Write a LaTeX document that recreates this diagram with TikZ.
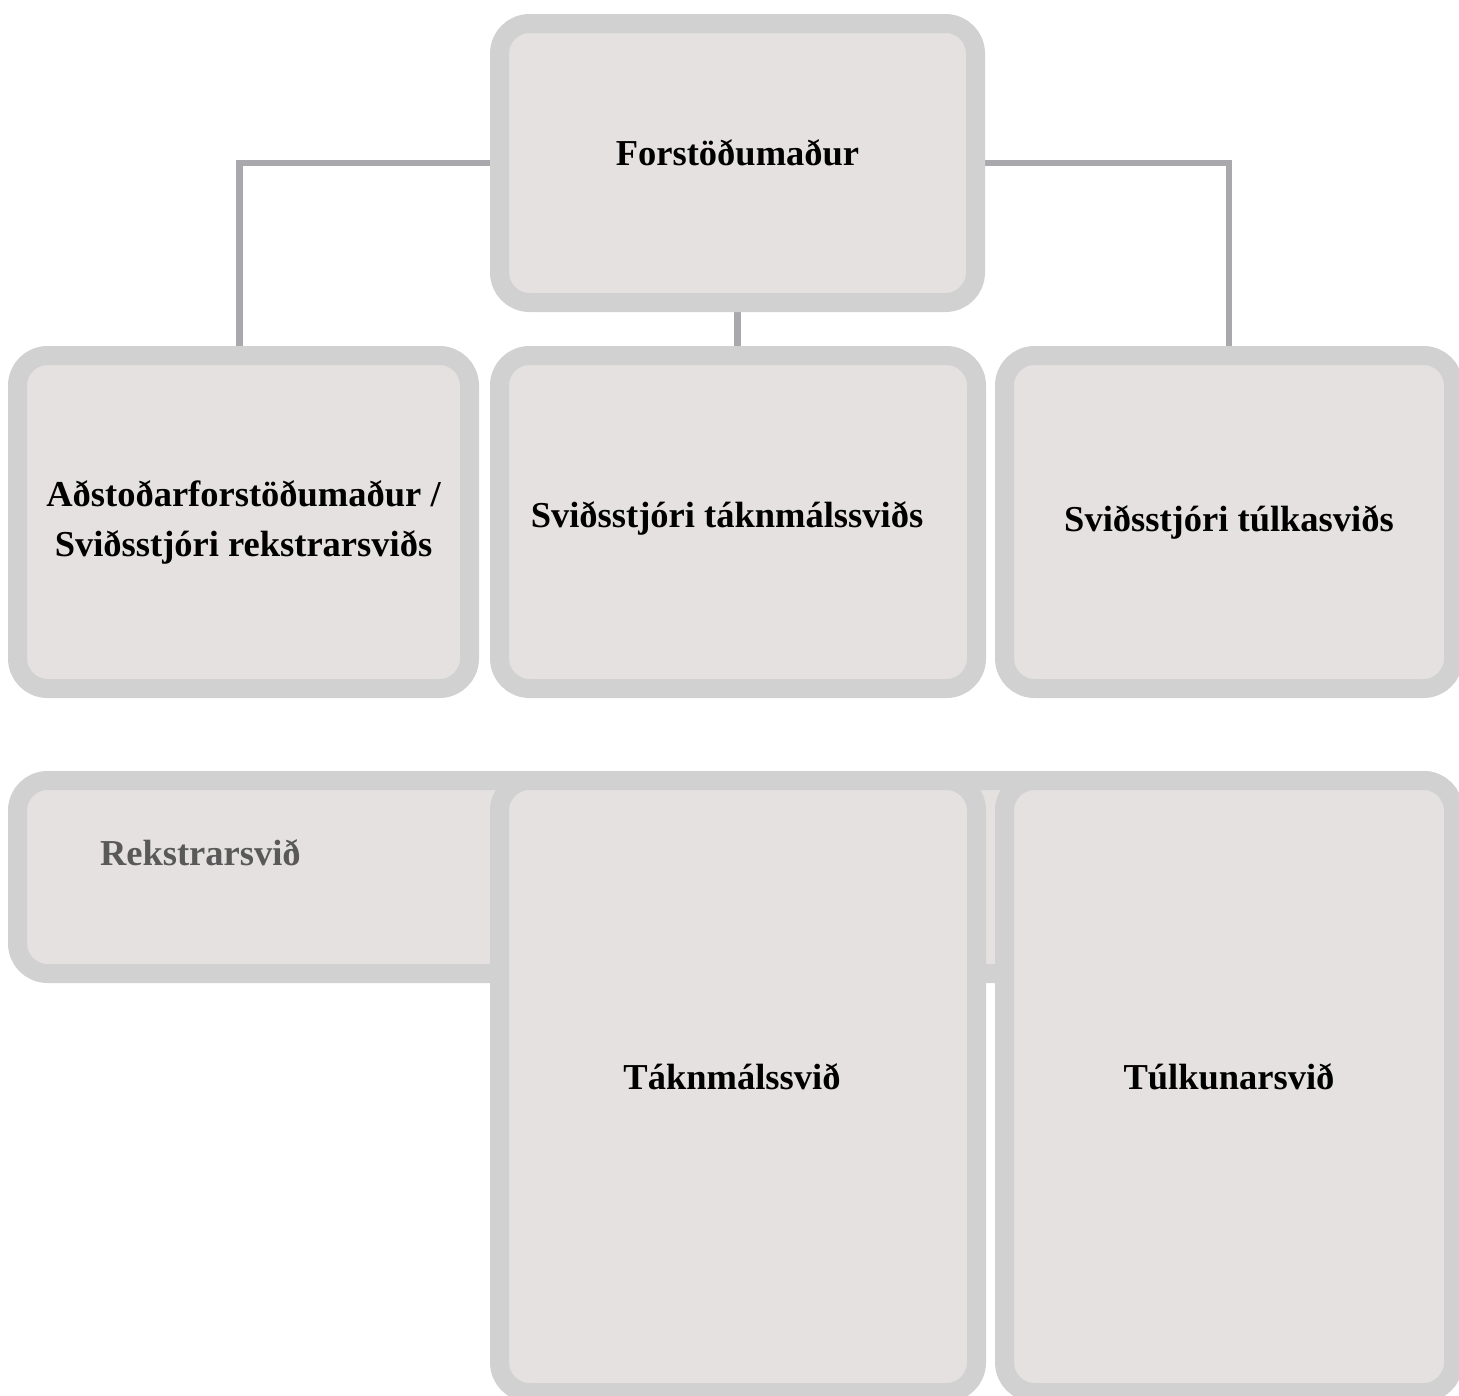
\documentclass[tikz,border=0pt]{standalone}
\usepackage{fontspec}
\setmainfont{Liberation Serif}
\usetikzlibrary{backgrounds}
\definecolor{boxedge}{RGB}{209,209,209}
\definecolor{boxfill}{RGB}{228,225,224}
\definecolor{linkgray}{RGB}{169,168,173}
\definecolor{lblgray}{RGB}{89,89,89}
\begin{document}
\begin{tikzpicture}[x=1pt,y=-1pt,inner sep=0pt,outer sep=0pt,
orgblock/.style={draw=boxedge,fill=boxfill,rectangle,rounded corners=30pt,line width=19pt,align=center,font=\bfseries\fontsize{36.5}{50}\selectfont},
orgtext/.style={anchor=base,font=\bfseries\fontsize{36.5}{50}\selectfont},
link/.style={draw=linkgray,line width=6.5pt}]
\useasboundingbox (0,0) rectangle (1459,1395);
\clip (0,0) rectangle (1459,1395);
% top
\node[orgblock,minimum width=476pt,minimum height=279pt] (forst) at (737.5,163) {};
\node[orgtext] (forstlbl) at (737.5,165) {Forstöðumaður};
% second row
\node[orgblock,minimum width=452pt,minimum height=333pt] (adst) at (243.5,522) {Aðstoðarforstöðumaður /\\Sviðsstjóri rekstrarsviðs};
\node[orgblock,minimum width=477pt,minimum height=333pt] (takstj) at (738,522) {};
\node[orgtext] (takstjlbl) at (727,527) {Sviðsstjóri táknmálssviðs};
\node[orgblock,minimum width=449pt,minimum height=333pt] (tulkstj) at (1229,522) {Sviðsstjóri túlkasviðs};
% third row
\node[orgblock,minimum width=1436pt,minimum height=193pt] (rekstrar) at (735.5,877) {};
\node[orgtext,anchor=base west,text=lblgray] (rekstrarlbl) at (100,865) {Rekstrarsvið};
\node[orgblock,minimum width=477pt,minimum height=612pt] (takn) at (738,1086.5) {};
\node[orgtext] (taknlbl) at (732,1089) {Táknmálssvið};
\node[orgblock,minimum width=449pt,minimum height=612pt] (tulk) at (1229,1086.5) {};
\node[orgtext] (tulklbl) at (tulk.center |- taknlbl.base) {Túlkunarsvið};
\begin{scope}[on background layer]
\draw[link] (forst.west) -| ([xshift=-4pt]adst.north);
\draw[link] (forst.east) -| (tulkstj.north);
\draw[link] (forst.south) -- (forst.south |- takstj.north);
\end{scope}
\end{tikzpicture}
\end{document}
